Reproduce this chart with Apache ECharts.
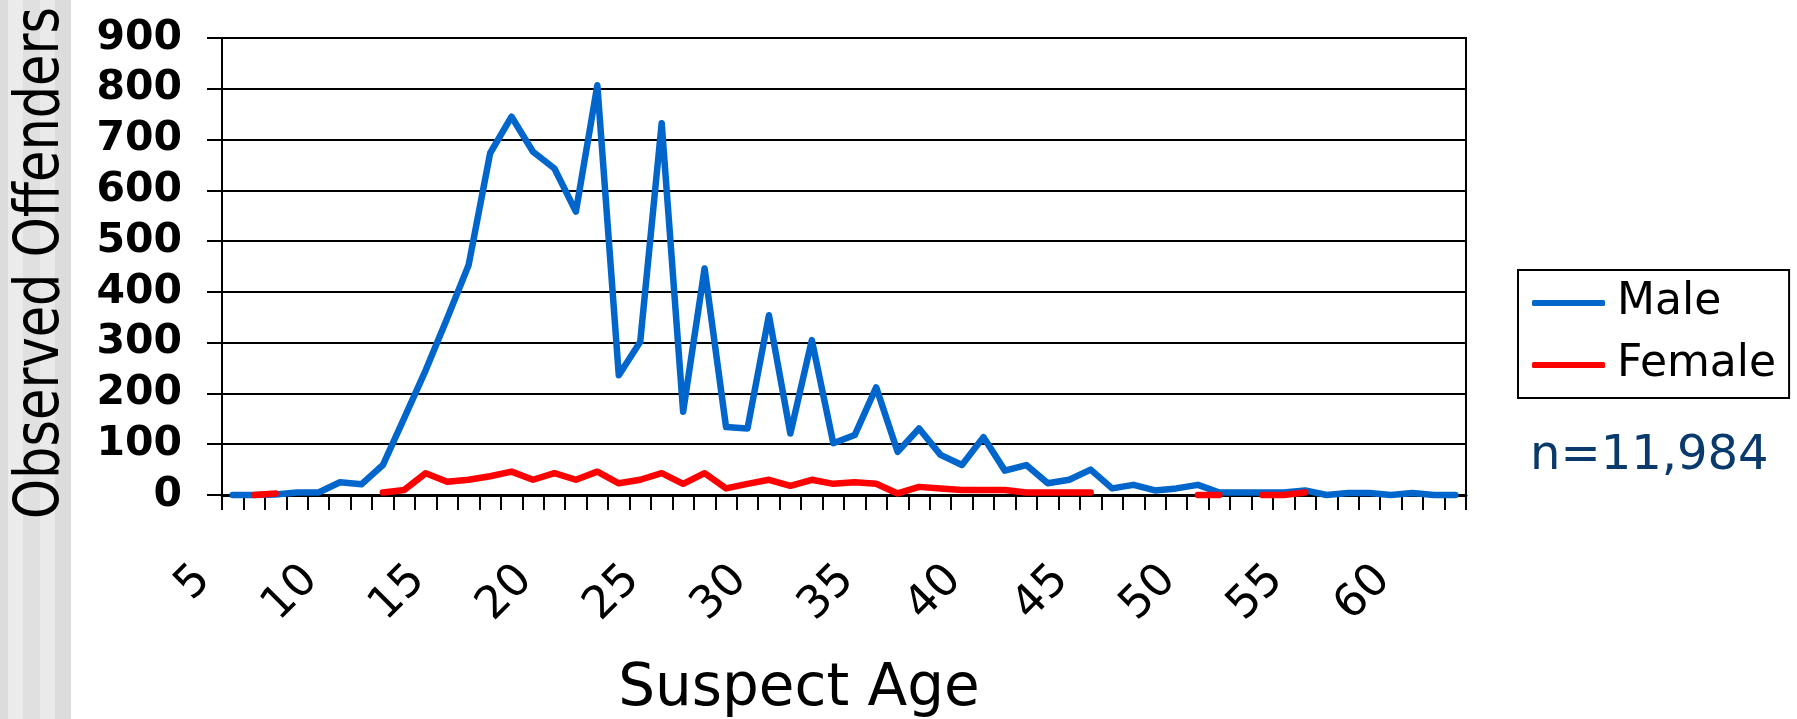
<!DOCTYPE html>
<html>
<head>
<meta charset="utf-8">
<script src="https://cdn.jsdelivr.net/npm/echarts@6/dist/echarts.min.js"></script>
<style>
  html, body { margin: 0; padding: 0; background: #ffffff; }
  #chart { width: 1797px; height: 719px; }
</style>
</head>
<body>
<div id="chart"></div>
<script>
// ---- Data ----
const ages = [5, 6, 7, 8, 9, 10, 11, 12, 13, 14, 15, 16, 17, 18, 19, 20, 21, 22, 23, 24,
              25, 26, 27, 28, 29, 30, 31, 32, 33, 34, 35, 36, 37, 38, 39, 40, 41, 42, 43, 44,
              45, 46, 47, 48, 49, 50, 51, 52, 53, 54, 55, 56, 57, 58, 59, 60, 61, 62];

const male = [0, 0, 1, 5, 5, 25, 21, 59, 152, 246,
              348, 453, 673, 745, 676, 643, 558, 807, 236, 302,
              732, 164, 446, 134, 131, 354, 121, 305, 102, 118,
              212, 85, 131, 79, 59, 114, 48, 59, 23, 30,
              50, 13, 20, 9, 13, 20, 5, 5, 5, 5,
              9, 0, 4, 4, 0, 4, 0, 0];

const female = [null, 0, 3, null, null, null, null, 5, 10, 43,
                26, 30, 37, 46, 30, 43, 30, 46, 23, 30,
                43, 22, 43, 13, 22, 30, 18, 30, 22, 25,
                22, 3, 16, 13, 10, 10, 10, 5, 5, 5,
                5, null, null, null, null, 0, 0, null, 0, 0,
                5, null, null, null, null, null, null, null];

const seriesNames = ['Male', 'Female'];
const yTicks = { min: 0, max: 900, interval: 100 };
const xTitle = 'Suspect Age';
const yTitle = 'Observed Offenders';
const noteText = 'n=11,984';

// ---- Chart ----
const chart = echarts.init(document.getElementById('chart'), null, { renderer: 'canvas' });

const stripeColors = ['#dcdcdc', '#ebebeb', '#e0e0e0', '#eaeaea', '#dcdcdc'];
const stripeEdges = [0, 8, 23, 40, 55, 71];
const graphics = stripeColors.map((c, i) => ({
  type: 'rect',
  x: stripeEdges[i],
  y: 0,
  z: -10,
  shape: { x: 0, y: 0, width: stripeEdges[i + 1] - stripeEdges[i], height: 719 },
  style: { fill: c }
}));
// Y axis title: real text, condensed horizontally to match the narrow original face
graphics.push({
  type: 'text',
  x: 42,
  y: 263,
  rotation: Math.PI / 2,
  scaleX: 0.81,
  z: 10,
  style: {
    text: yTitle,
    fontFamily: 'DejaVu Sans',
    fontSize: 63,
    fill: '#000000',
    align: 'center',
    verticalAlign: 'middle'
  }
});

const option = {
  backgroundColor: '#ffffff',
  animation: false,
  graphic: graphics,
  title: {
    text: noteText,
    left: 1530,
    top: 433,
    padding: 0,
    textStyle: { fontFamily: 'DejaVu Sans', fontSize: 48, fontWeight: 'normal', color: '#0a3a6c' }
  },
  legend: {
    orient: 'vertical',
    left: 1518,
    top: 270,
    padding: [8, 13, 8, 14],
    itemGap: 12,
    itemWidth: 73,
    itemHeight: 6,
    icon: 'roundRect',
    borderColor: '#000000',
    borderWidth: 2,
    backgroundColor: '#ffffff',
    data: seriesNames,
    textStyle: { fontFamily: 'DejaVu Sans', fontSize: 44, color: '#000000', lineHeight: 50, padding: [0, 0, 0, 7] }
  },
  grid: {
    left: 222,
    top: 38,
    width: 1244,
    height: 457,
    show: true,
    borderColor: '#000000',
    borderWidth: 2,
    containLabel: false,
    outerBoundsMode: 'none'
  },
  xAxis: {
    type: 'category',
    data: ages,
    boundaryGap: true,
    name: xTitle,
    nameLocation: 'middle',
    nameGap: 166,
    nameTextStyle: { fontFamily: 'DejaVu Sans', fontSize: 58, color: '#000000', padding: [0, 90, 0, 0] },
    axisLine: { show: true, lineStyle: { color: '#000000', width: 3 } },
    axisTick: { show: true, interval: 0, length: 15, lineStyle: { color: '#000000', width: 2 } },
    axisLabel: {
      interval: 4,
      rotate: 45,
      margin: 49,
      padding: [0, 41, 84, 0],
      fontFamily: 'DejaVu Sans',
      fontSize: 45,
      color: '#000000',
      hideOverlap: false
    },
    splitLine: { show: false }
  },
  yAxis: {
    type: 'value',
    min: yTicks.min,
    max: yTicks.max,
    interval: yTicks.interval,
    axisLine: { show: true, lineStyle: { color: '#000000', width: 2 } },
    axisTick: { show: true, length: 15, lineStyle: { color: '#000000', width: 2 } },
    axisLabel: { margin: 40, fontFamily: 'DejaVu Sans', fontWeight: 'bold', fontSize: 41, color: '#000000' },
    splitLine: { show: true, lineStyle: { color: '#000000', width: 2 } }
  },
  series: [
    {
      name: seriesNames[0],
      type: 'line',
      data: male,
      symbol: 'none',
      clip: false,
      connectNulls: false,
      color: '#0066cc',
      lineStyle: { color: '#0066cc', width: 6.5, cap: 'round', join: 'round' }
    },
    {
      name: seriesNames[1],
      type: 'line',
      data: female,
      symbol: 'none',
      clip: false,
      connectNulls: false,
      color: '#ff0000',
      lineStyle: { color: '#ff0000', width: 6.5, cap: 'round', join: 'round' }
    }
  ]
};

chart.setOption(option);
</script>
</body>
</html>
